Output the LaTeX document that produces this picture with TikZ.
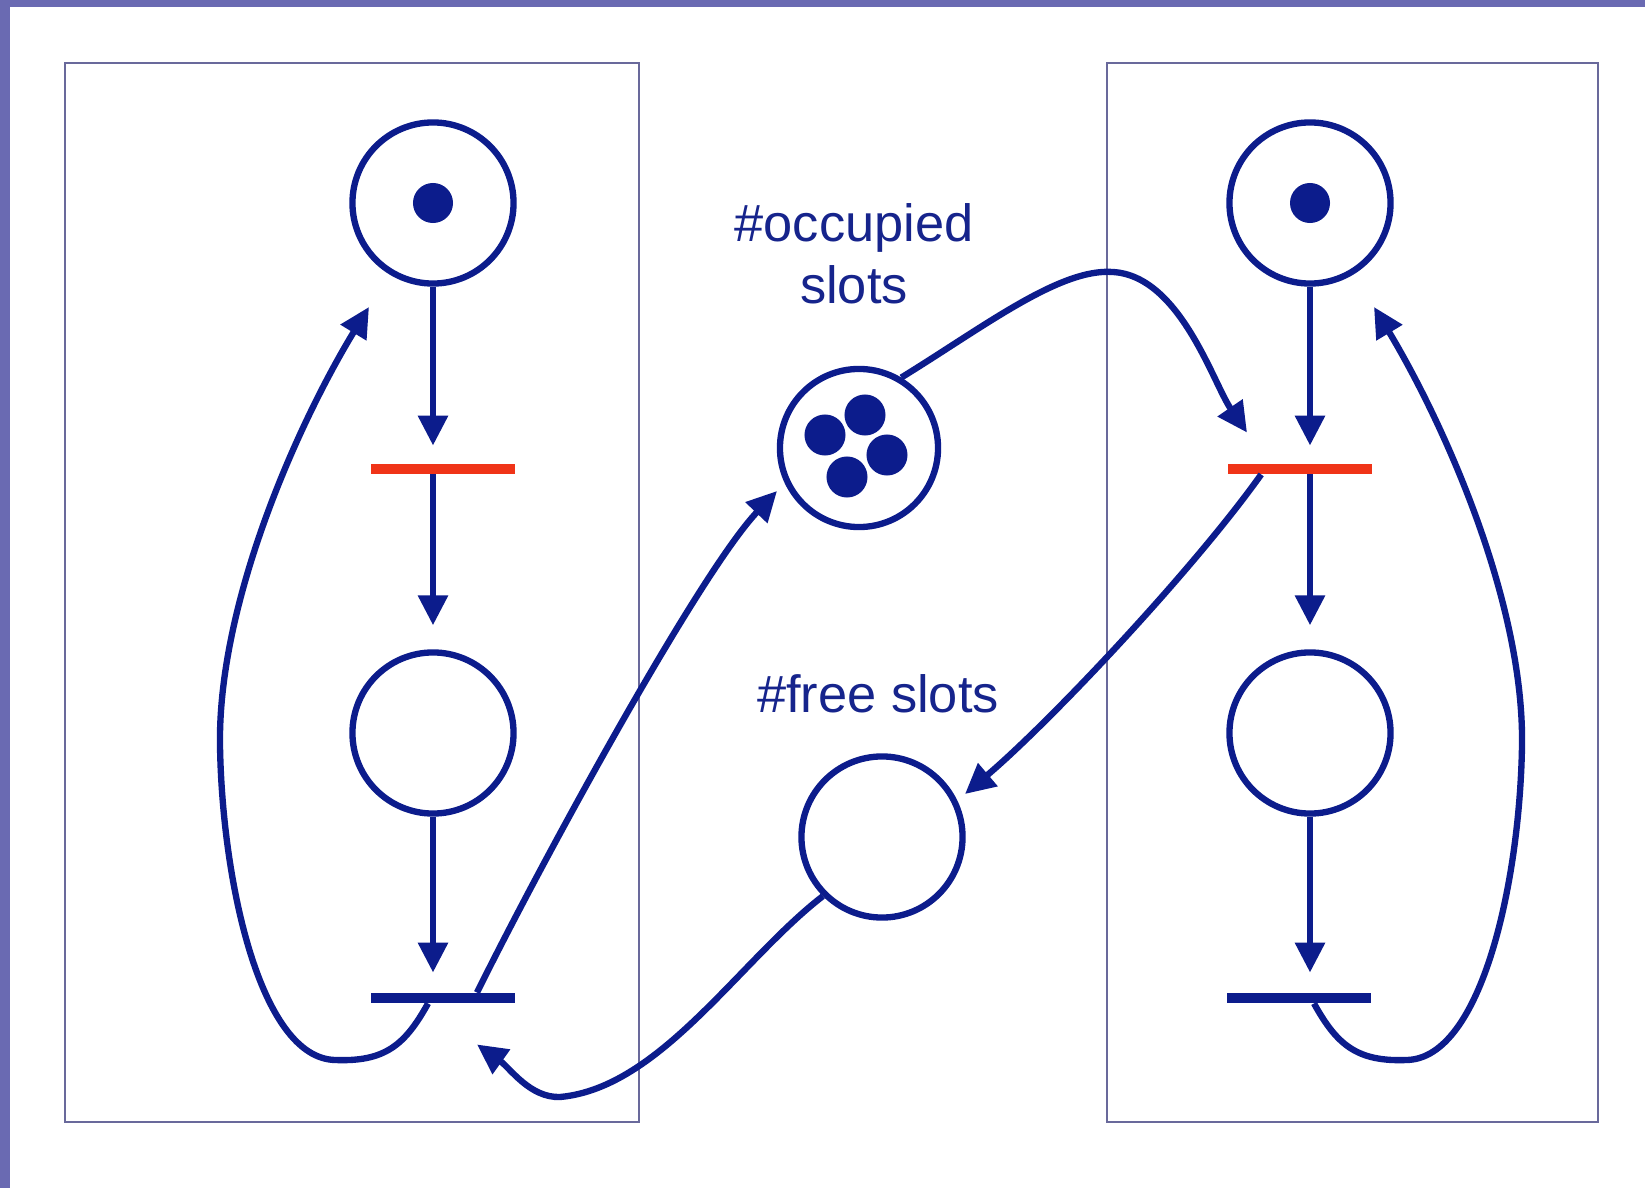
\documentclass[tikz,border=0pt]{standalone}
\usepackage{fontspec}
\setmainfont{Liberation Sans}
\usetikzlibrary{arrows.meta,calc}

\definecolor{netblue}{RGB}{12,28,140}
\definecolor{labelblue}{RGB}{22,36,140}
\definecolor{firered}{RGB}{240,52,24}
\definecolor{boxgray}{RGB}{105,105,155}
\definecolor{slidebar}{RGB}{106,106,178}

\begin{document}
\begin{tikzpicture}[x=0.01cm,y=-0.01cm,
  place/.style={circle,draw=netblue,line width=1.8pt,minimum size=1.61cm,inner sep=0pt},
  tbar/.style={rectangle,fill=netblue,minimum width=1.43cm,minimum height=0.095cm,inner sep=0pt},
  flow/.style={draw=netblue,line width=1.8pt,-{Triangle[length=0.3cm,width=0.29cm]}},
  lbl/.style={text=labelblue,font=\fontsize{14.9pt}{17.6pt}\selectfont,align=center}]
\useasboundingbox (0,0) rectangle (1645,1188);
\fill[white] (0,0) rectangle (1645,1188);
\fill[slidebar] (0,0) rectangle (10,1188);
\fill[slidebar] (0,0) rectangle (1645,7);

% the two processes
\draw[boxgray,line width=0.6pt] (65,63) rectangle (639,1122);
\draw[boxgray,line width=0.6pt] (1107,63) rectangle (1598,1122);

% places
\node[place] (p1) at (433,203) {};
\node[place] (p2) at (433,733) {};
\node[place] (p3) at (1310,203) {};
\node[place] (p4) at (1310,733) {};
\node[place,minimum size=1.58cm] (p5) at (859,448) {};
\node[place] (p6) at (882,837) {};

% transitions
\node[tbar,fill=firered] (t1) at (443,469) {};
\node[tbar] (t2) at (443,998) {};
\node[tbar,fill=firered] (t3) at (1300,469) {};
\node[tbar] (t4) at (1299,998) {};

% tokens
\fill[netblue] (p1) circle[radius=0.2cm];
\fill[netblue] (p3) circle[radius=0.2cm];
\foreach \dx/\dy in {-34/-13, 6/-33, 28/7, -12/29}
  \fill[netblue] ($(p5)+(\dx,\dy)$) circle[radius=0.205cm];

\node[lbl] (occ) at (854,254) {\#occupied\\slots};
\node[lbl] (free) at (878,694) {\#free slots};

\draw[flow,shorten >=0.18cm] (p1) -- (p1 |- t1.north); % p1 - t1
\draw[flow,shorten >=0.24cm] (t1.south -| p2) -- (p2); % t1 - p2
\draw[flow,shorten >=0.2cm] (p2) -- (p2 |- t2.north); % p2 - t2
\draw[flow,shorten >=0.18cm] (p3) -- (p3 |- t3.north); % p3 - t3
\draw[flow,shorten >=0.24cm] (t3.south -| p4) -- (p4); % t3 - p4
\draw[flow,shorten >=0.2cm] (p4) -- (p4 |- t4.north); % p4 - t4

% loops back to the top
\draw[flow] (t2.200) .. controls (405,1045) and (385,1062) .. (335,1060)
  .. controls (260,1058) and (222,880) .. (220,745)
  .. controls (218,600) and (300,420) .. ($(p1)+(-64,104)$); % t2 - p1
\draw[flow] (t4.340) .. controls (1337,1045) and (1357,1062) .. (1407,1060)
  .. controls (1482,1058) and (1520,880) .. (1522,745)
  .. controls (1524,600) and (1442,420) .. ($(p3)+(64,104)$); % t4 - p3

% slot counters
\draw[flow] ($(t2.north)+(34,0)$) .. controls (543,859) and (700,572) .. ($(p5)+(-82,43)$); % t2 - p5
\draw[flow] (p5.59) .. controls (985,326) and (1060,268) .. (1113,272)
  .. controls (1180,276) and (1213,383) .. ($(t3.north)+(-53,-31)$); % p5 - t3
\draw[flow] (t3.188) .. controls (1194,569) and (1050,722) .. ($(p6)+(83,-43)$); % t3 - p6
\draw[flow] (p6.225) .. controls (740,960) and (660,1088) .. (560,1097)
  .. controls (530,1098) and (510,1068) .. ($(t2.south)+(34,41)$); % p6 - t2

\end{tikzpicture}
\end{document}
